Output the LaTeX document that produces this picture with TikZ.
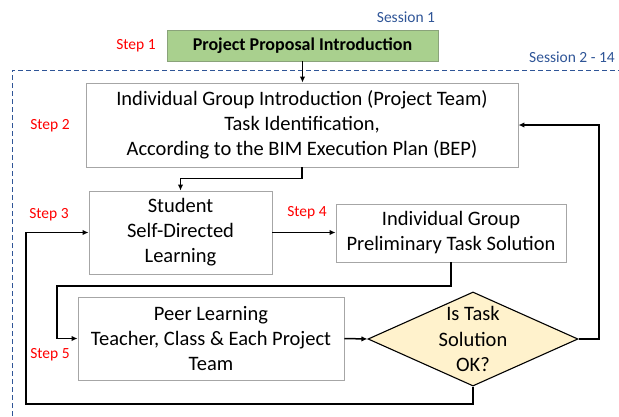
\documentclass[tikz,border=0pt]{standalone}
\usepackage{fontspec}
\setmainfont{Carlito}
\usepackage{tikz}
\usetikzlibrary{arrows.meta,shapes.geometric}
\definecolor{sessionblue}{HTML}{2F5597}
\definecolor{stepred}{HTML}{FF0000}
\definecolor{boxgray}{HTML}{A6A6A6}
\definecolor{propgreen}{HTML}{A9D08E}
\definecolor{propedge}{HTML}{8AA37A}
\definecolor{okyellow}{HTML}{FFF2CC}
\tikzset{
  task/.style={draw=boxgray,line width=0.9pt,fill=white,align=center,inner sep=0pt,
    font=\fontsize{20.5}{25}\selectfont},
  decision/.style={diamond,draw=black,line width=1.1pt,fill=okyellow,align=center,
    inner sep=-10pt,font=\fontsize{20.5}{25.5}\selectfont},
  flow/.style={line width=1.5pt,-{Latex[length=6pt,width=5.5pt]}},
  steplabel/.style={text=stepred,font=\fontsize{15.5}{18}\selectfont},
  sessionlabel/.style={text=sessionblue,font=\fontsize{15.5}{18}\selectfont}
}

\begin{document}
\begin{tikzpicture}[x=1pt,y=-1pt]
    \useasboundingbox (0,0) rectangle (619,416);

    % sessions 2 - 14 frame
    \draw [sessionblue, dashed, line width=1pt, dash pattern=on 5pt off 3pt] (12,416) -- (12,70) -- (619,70);
    \node [sessionlabel] (s1) at (406,17) {Session 1};
    \node [sessionlabel] (s2) at (572,57) {Session 2 - 14};

    \node [task, draw=propedge, fill=propgreen, minimum width=271, minimum height=31,
      font=\fontsize{18}{20}\selectfont\bfseries] (propose) at (302.5,45.5) {Project Proposal Introduction};
    \node [task, minimum width=432, minimum height=84] (intro) at (302,125)
      {Individual Group Introduction (Project Team)\\Task Identification,\\According to the BIM Execution Plan (BEP)};
    \node [task, minimum width=183, minimum height=83] (selfdir) at (180.5,232.5)
      {Student\\Self-Directed\\Learning};
    \node [task, minimum width=230, minimum height=58] (prelim) at (451,233)
      {Individual Group\\Preliminary Task Solution};
    \node [task, minimum width=266, minimum height=83] (peer) at (211,338.5)
      {Peer Learning\\Teacher, Class \& Each Project\\Team};
    \node [decision, minimum width=210, minimum height=88] (check) at (473,339)
      {Is Task\\Solution\\OK?};

    \node [steplabel] (st1) at (136,46) {Step 1};
    \node [steplabel] (st2) at (50,126) {Step 2};
    \node [steplabel] (st3) at (49,215) {Step 3};
    \node [steplabel] (st4) at (307,213) {Step 4};
    \node [steplabel] (st5) at (50,355) {Step 5};

    \coordinate (jog) at (57,286);
    \coordinate (loopR) at (599,125);
    \coordinate (loopL) at (26,404);

    \draw [flow] (propose.south) -- (propose.south |- intro.north);
    \draw [flow] (intro.south) -- ++(0,11) -| (selfdir.north);
    \draw [flow] (selfdir.east) -- (selfdir.east -| prelim.west);
    \draw [flow] (prelim.south) |- (jog) |- (peer.west);
    \draw [flow] (peer.east) -- (check.west);
    \draw [flow] (check.east) -| (loopR) -- (intro.east);
    \draw [flow] (check.south) |- (loopL) |- (selfdir.west);
\end{tikzpicture}
\end{document}
